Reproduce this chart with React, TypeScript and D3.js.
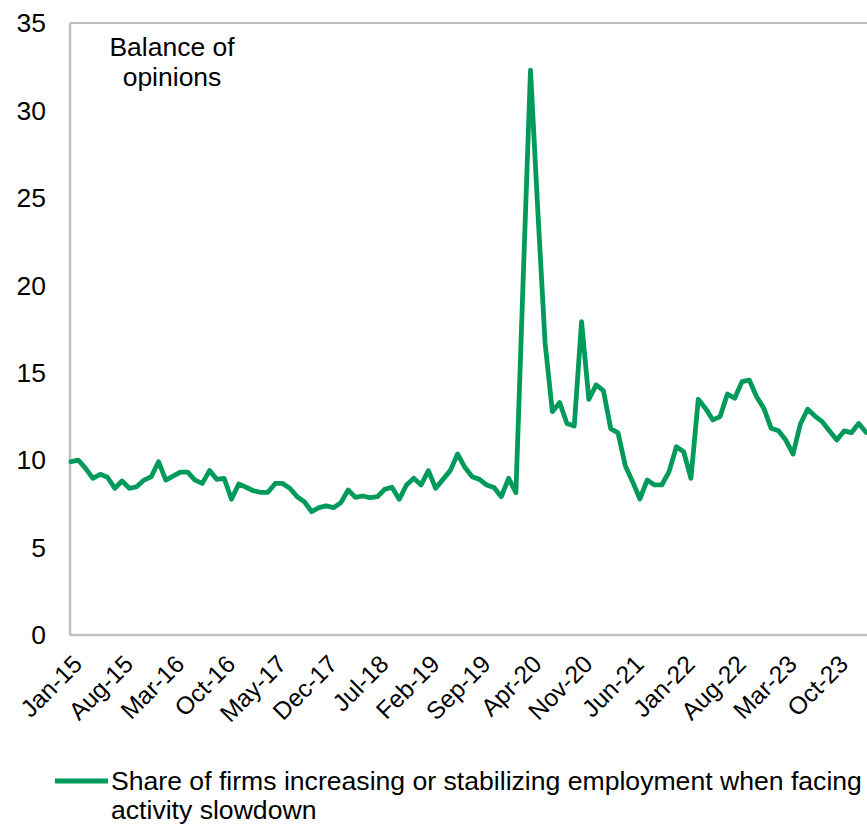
import React from "react";
import * as d3 from "d3";

// Monthly balance of opinions, Jan-15 onward
const startYear = 2015;
const values: number[] = [
  9.91, 10.0, 9.53, 8.96, 9.19, 9.02, 8.39, 8.81, 8.39, 8.48, 8.86, 9.05,
  9.91, 8.86, 9.09, 9.32, 9.32, 8.86, 8.67, 9.40, 8.90, 8.96, 7.76, 8.64,
  8.45, 8.25, 8.16, 8.16, 8.67, 8.67, 8.39, 7.91, 7.62, 7.05, 7.28, 7.38,
  7.28, 7.57, 8.29, 7.87, 7.95, 7.85, 7.91, 8.33, 8.45, 7.76, 8.58, 8.96,
  8.58, 9.40, 8.39, 8.90, 9.40, 10.35, 9.59, 9.05, 8.90, 8.58, 8.43, 7.91,
  8.96, 8.14, 20.4, 32.3, 24.3, 16.7, 12.77, 13.29, 12.1, 11.95, 17.92, 13.48,
  14.3, 13.97, 11.8, 11.56, 9.68, 8.77, 7.78, 8.86, 8.58, 8.58, 9.34, 10.77,
  10.48, 8.96, 13.48, 12.96, 12.3, 12.49, 13.78, 13.54, 14.49, 14.58, 13.63, 12.96,
  11.82, 11.68, 11.15, 10.35, 12.07, 12.91, 12.52, 12.2, 11.67, 11.15, 11.67, 11.57,
  12.1, 11.59,
];
const monthNames = ["Jan", "Feb", "Mar", "Apr", "May", "Jun", "Jul", "Aug", "Sep", "Oct", "Nov", "Dec"];
const categories: string[] = values.map((_, i) => {
  const m = i % 12;
  const y = startYear + Math.floor(i / 12);
  return `${monthNames[m]}-${String(y).slice(2)}`;
});
const yTicks = [0, 5, 10, 15, 20, 25, 30, 35];
const labelEvery = 7;
const seriesName = "Share of firms increasing or stabilizing employment when facing";
const seriesName2 = "activity slowdown";
const unitNote = ["Balance of", "opinions"];

const W = 867;
const H = 825;
const left = 71;
const right = 866;
const top = 23;
const bottom = 635;
const green = "#009a5a";
const axisGrey = "#bfbfbf";
const font = "Liberation Sans, Arial, sans-serif";

export default function App() {
  const x = d3
    .scalePoint<string>()
    .domain(categories)
    .range([left, right]);
  const y = d3.scaleLinear().domain([0, 35]).range([bottom, top]);
  const line = d3
    .line<number>()
    .x((_, i) => x(categories[i]) as number)
    .y((d) => y(d));

  const tickCats = categories.filter((_, i) => i % labelEvery === 0 && i < 106);

  return (
    <svg width={W} height={H} style={{ position: "absolute", left: 0, top: 0 }} fontFamily={font}>
      <rect x={0} y={0} width={W} height={H} fill="#fff" />
      {/* plot frame */}
      <line x1={left - 1} x2={W} y1={top} y2={top} stroke={axisGrey} strokeWidth={2} />
      <line x1={left - 1} x2={left - 1} y1={top} y2={bottom} stroke={axisGrey} strokeWidth={2.5} />
      <line x1={left - 1} x2={W} y1={bottom} y2={bottom} stroke={axisGrey} strokeWidth={2.5} />

      {yTicks.map((t) => (
        <text key={t} x={46} y={y(t)} dy="0.35em" textAnchor="end" fontSize={26.5} fill="#000">
          {t}
        </text>
      ))}

      {tickCats.map((c) => {
        const px = (x(c) as number) + 2;
        const py = 655;
        return (
          <text
            key={c}
            x={px}
            y={py}
            textAnchor="end"
            dominantBaseline="hanging"
            fontSize={24.5}
            fill="#000"
            transform={`rotate(-45 ${px} ${py})`}
            dy="-0.1em"
          >
            {c}
          </text>
        );
      })}

      <path d={line(values) ?? ""} fill="none" stroke={green} strokeWidth={4.8} strokeLinejoin="round" strokeLinecap="round" />

      <text x={172} y={47} dy="0.35em" textAnchor="middle" fontSize={26.5} fill="#000">
        {unitNote[0]}
      </text>
      <text x={172} y={77} dy="0.35em" textAnchor="middle" fontSize={26.5} fill="#000">
        {unitNote[1]}
      </text>

      {/* legend */}
      <line x1={55} x2={108} y1={781} y2={781} stroke={green} strokeWidth={5} />
      <text x={111} y={781} dy="0.35em" fontSize={26.6} fill="#000">
        {seriesName}
      </text>
      <text x={111} y={810} dy="0.35em" fontSize={26.6} fill="#000">
        {seriesName2}
      </text>
    </svg>
  );
}
